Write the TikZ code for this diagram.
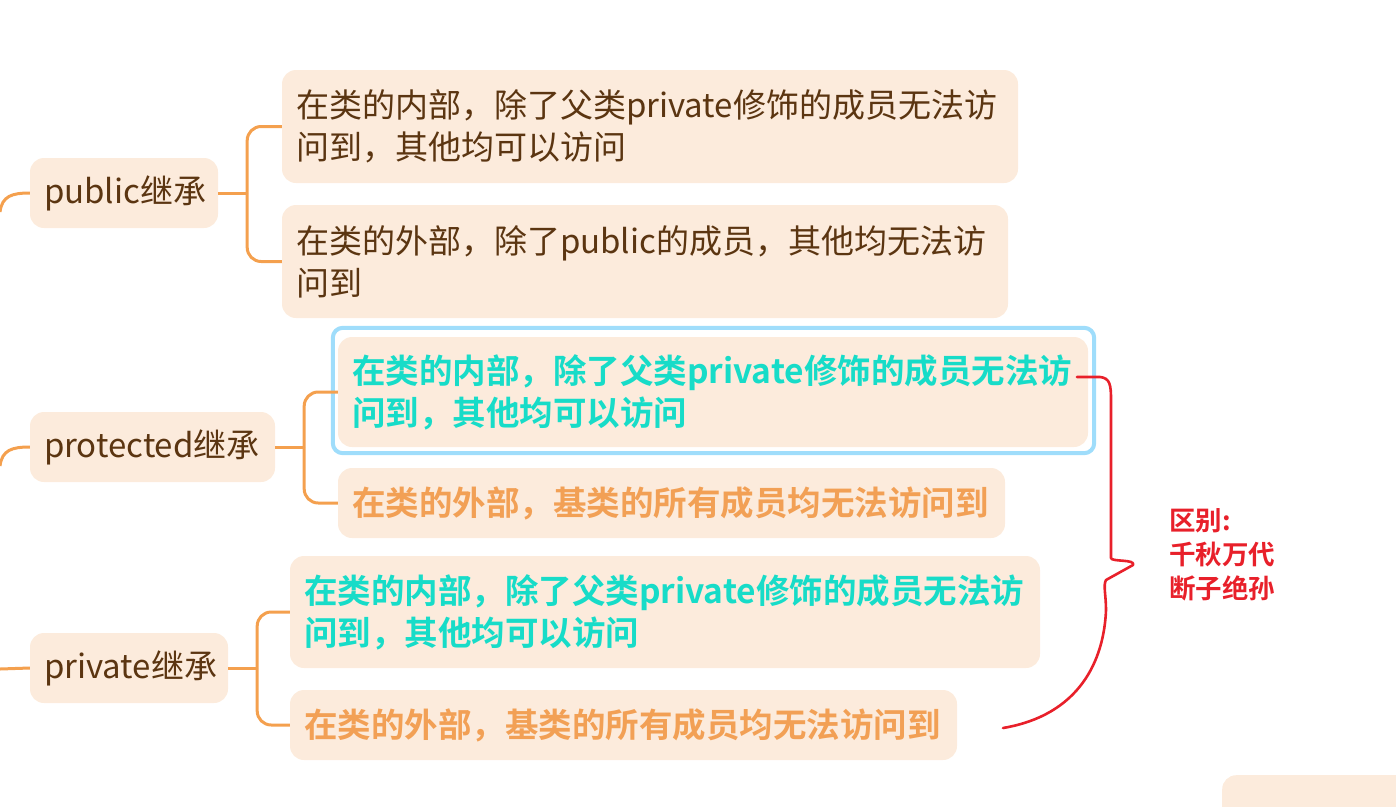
\documentclass[tikz,border=0pt]{standalone}
\usepackage{fontspec}
\setmainfont{Noto Sans CJK SC}[BoldFont={Noto Sans CJK SC Bold}]
\usetikzlibrary{positioning}
\definecolor{boxfill}{HTML}{FCEBDC}
\definecolor{linkorange}{HTML}{F4A04E}
\definecolor{darktext}{HTML}{5B3511}
\definecolor{tealtext}{HTML}{17DCC8}
\definecolor{orangetext}{HTML}{F2A055}
\definecolor{hiblue}{HTML}{9FDDFB}
\definecolor{notered}{HTML}{E8202A}
\tikzset{
  box/.style={fill=boxfill,rounded corners=14pt,inner xsep=14pt,inner ysep=0pt,align=left,
    text=darktext,font=\fontsize{33}{42}\selectfont},
  parent/.style={box,minimum height=70pt},
  hot/.style={text=tealtext,font=\fontsize{33.5}{42}\selectfont\bfseries},
  cold/.style={text=orangetext,font=\fontsize{33.5}{42}\selectfont\bfseries},
  link/.style={draw=linkorange,line width=3pt},
  note/.style={text=notered,align=left,font=\fontsize{26.5}{34}\selectfont\bfseries}
}
\begin{document}
\begin{tikzpicture}[x=1pt,y=-1pt]
\useasboundingbox (0,0) rectangle (1396,806);
\clip (0,0) rectangle (1396,806);
% parents
\node[parent,text width=160pt] (pub) at (124,193) {public继承};
\node[parent,text width=217pt] (prot) at (152.5,447) {protected继承};
\node[parent,text width=170pt] (priv) at (129,668) {private继承};
% public children
\node[box,text width=708pt,minimum height=113pt] (pub1) at (650,126.5)
  {在类的内部，除了父类private修饰的成员无法访\\问到，其他均可以访问};
\node[box,text width=698pt,minimum height=113pt] (pub2) at (645,261.5)
  {在类的外部，除了public的成员，其他均无法访\\问到};
% protected children
\node[box,hot,text width=722pt,minimum height=110pt] (prot1) at (713,392)
  {在类的内部，除了父类private修饰的成员无法访\\问到，其他均可以访问};
\node[box,cold,text width=639pt,minimum height=70pt] (prot2) at (671.5,503)
  {在类的外部，基类的所有成员均无法访问到};
% private children
\node[box,hot,text width=722pt,minimum height=112pt] (priv1) at (665,612)
  {在类的内部，除了父类private修饰的成员无法访\\问到，其他均可以访问};
\node[box,cold,text width=639pt,minimum height=70pt] (priv2) at (623.5,725)
  {在类的外部，基类的所有成员均无法访问到};
% cut-off box at the bottom right
\node[box,minimum width=220pt,minimum height=70pt,anchor=north west] (more) at (1222,775) {};
% highlight round the protected inner rule
\draw[hiblue,line width=4pt,rounded corners=10pt]
  ([shift={(-5,-9)}]prot1.north west) rectangle ([shift={(6,6)}]prot1.south east);
% incoming links
\coordinate (inpub) at (0,212);
\coordinate (inprot) at (0,466);
\coordinate (inpriv) at (0,669);
\draw[link] (inpub) .. controls (2,196) and (12,193) .. (pub.west);
\draw[link] (inprot) .. controls (2,450) and (12,447) .. (prot.west);
\draw[link] (inpriv) -- (priv.west);
% forks
\draw[link] (pub.east) -- ++(29,0) coordinate (pubfork);
\draw[link,rounded corners=14pt] (pubfork) |- (pub1.west);
\draw[link,rounded corners=14pt] (pubfork) |- (pub2.west);
\draw[link] (prot.east) -- ++(29,0) coordinate (protfork);
\draw[link,rounded corners=14pt] (protfork) |- (prot1.west);
\draw[link,rounded corners=14pt] (protfork) |- (prot2.west);
\draw[link] (priv.east) -- ++(29,0) coordinate (privfork);
\draw[link,rounded corners=14pt] (privfork) |- (priv1.west);
\draw[link,rounded corners=14pt] (privfork) |- (priv2.west);
% hand drawn brace
\coordinate (bracetop) at (1077,377);
\coordinate (braceend) at (1003,728);
\draw[notered,line width=2.6pt,line cap=round,line join=round]
  (bracetop) -- (1100,377) .. controls (1110,378) and (1111,385) .. (1111,400)
  -- (1111,558) .. controls (1111,562) and (1136,559) .. (1133,565)
  -- (1106,580) .. controls (1103,585) and (1106,595) .. (1106,610)
  .. controls (1104,660) and (1080,715) .. (braceend);
\node[note,anchor=north west,inner sep=0pt] (diff) at (1169,508) {区别:\\千秋万代\\断子绝孙};
\end{tikzpicture}
\end{document}
